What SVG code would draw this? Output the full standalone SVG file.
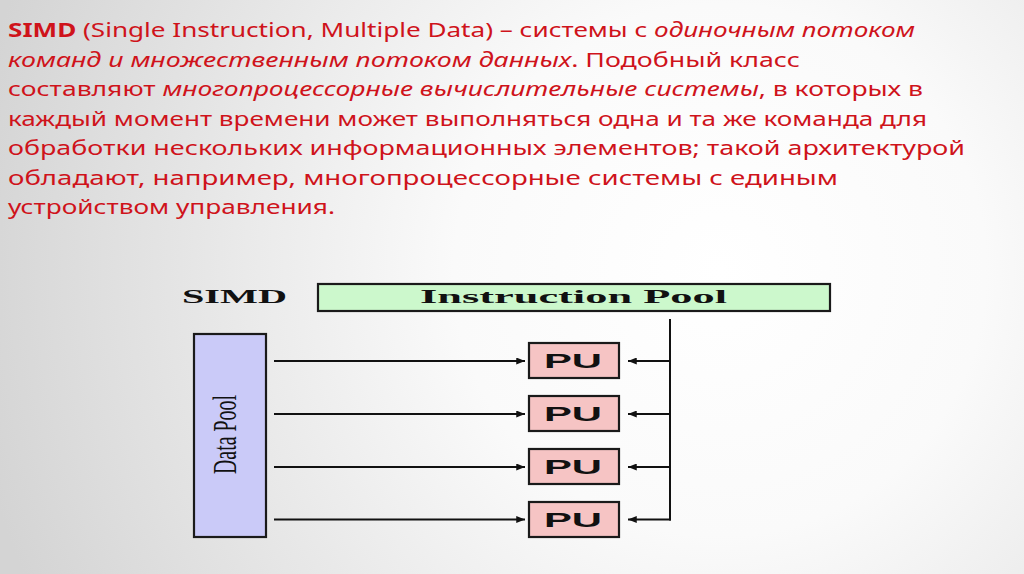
<svg xmlns="http://www.w3.org/2000/svg" width="1024" height="574" viewBox="0 0 1024 574">
<defs>
<radialGradient id="bg" cx="720" cy="270" r="760" gradientUnits="userSpaceOnUse">
<stop offset="0" stop-color="#ffffff"/>
<stop offset="0.35" stop-color="#fafafa"/>
<stop offset="1" stop-color="#d4d4d4"/>
</radialGradient>
<marker id="ah" viewBox="0 0 10 8" refX="10" refY="4" markerWidth="9" markerHeight="7" markerUnits="userSpaceOnUse" orient="auto">
<path d="M0,0 L10,4 L0,8 Z" fill="#111"/>
</marker>
<style>
.t{font-family:"Noto Sans","DejaVu Sans",sans-serif;font-size:20px;fill:#cf131b;}
.i{font-style:italic;}
.b{font-weight:bold;}
.lbl{font-family:"Liberation Serif","Times New Roman",serif;font-weight:bold;font-size:18px;fill:#111;}
.pu{font-family:"Liberation Sans",Arial,sans-serif;font-weight:bold;font-size:21px;fill:#111;}
.dp{font-family:"Liberation Serif","Times New Roman",serif;font-size:34px;fill:#111;}
.box{stroke:#1a1a1a;stroke-width:2.2;}
.ln{stroke:#111;stroke-width:2;fill:none;}
</style>
</defs>
<rect width="1024" height="574" fill="url(#bg)"/>
<g id="heading">
<text class="t" x="8" y="37" textLength="907" lengthAdjust="spacingAndGlyphs"><tspan class="b">SIMD</tspan> (Single Instruction, Multiple Data) – системы с <tspan class="i">одиночным потоком</tspan></text>
<text class="t" x="8" y="66.5" textLength="792" lengthAdjust="spacingAndGlyphs"><tspan class="i">команд и множественным потоком данных</tspan>. Подобный класс</text>
<text class="t" x="8" y="96" textLength="915" lengthAdjust="spacingAndGlyphs">составляют <tspan class="i">многопроцессорные вычислительные системы</tspan>, в которых в</text>
<text class="t" x="8" y="125.5" textLength="919" lengthAdjust="spacingAndGlyphs">каждый момент времени может выполняться одна и та же команда для</text>
<text class="t" x="8" y="155" textLength="957" lengthAdjust="spacingAndGlyphs">обработки нескольких информационных элементов; такой архитектурой</text>
<text class="t" x="8" y="184.5" textLength="830" lengthAdjust="spacingAndGlyphs">обладают, например, многопроцессорные системы с единым</text>
<text class="t" x="8" y="214" textLength="327" lengthAdjust="spacingAndGlyphs">устройством управления.</text>
</g>
<g id="simd-label">
<text class="lbl" x="182" y="303" textLength="105" lengthAdjust="spacingAndGlyphs">SIMD</text>
</g>
<g id="instruction-pool">
<rect class="box" x="318" y="284" width="512" height="27" fill="#ccf8cc"/>
<text class="lbl" x="420" y="303" textLength="307" lengthAdjust="spacingAndGlyphs">Instruction Pool</text>
</g>
<g id="data-pool">
<rect class="box" x="194" y="334" width="72" height="203" fill="#cacaf8"/>
<text class="dp" x="0" y="0" transform="translate(236,474) rotate(-90)" textLength="79" lengthAdjust="spacingAndGlyphs">Data Pool</text>
</g>
<g id="pu1">
<rect class="box" x="529" y="343" width="90" height="35" fill="#f6c4c4"/>
<text class="pu" x="544" y="368" textLength="58" lengthAdjust="spacingAndGlyphs">PU</text>
</g>
<g id="pu2">
<rect class="box" x="529" y="396" width="90" height="35" fill="#f6c4c4"/>
<text class="pu" x="544" y="421" textLength="58" lengthAdjust="spacingAndGlyphs">PU</text>
</g>
<g id="pu3">
<rect class="box" x="529" y="449" width="90" height="35" fill="#f6c4c4"/>
<text class="pu" x="544" y="474" textLength="58" lengthAdjust="spacingAndGlyphs">PU</text>
</g>
<g id="pu4">
<rect class="box" x="529" y="502" width="90" height="35" fill="#f6c4c4"/>
<text class="pu" x="544" y="527" textLength="58" lengthAdjust="spacingAndGlyphs">PU</text>
</g>
<g id="connectors">
<line class="ln" x1="274" y1="361" x2="525" y2="361" marker-end="url(#ah)"/>
<line class="ln" x1="274" y1="414" x2="525" y2="414" marker-end="url(#ah)"/>
<line class="ln" x1="274" y1="467" x2="525" y2="467" marker-end="url(#ah)"/>
<line class="ln" x1="274" y1="519.5" x2="525" y2="519.5" marker-end="url(#ah)"/>
<line class="ln" x1="670" y1="319" x2="670" y2="520.5"/>
<line class="ln" x1="671" y1="361" x2="628" y2="361" marker-end="url(#ah)"/>
<line class="ln" x1="671" y1="414" x2="628" y2="414" marker-end="url(#ah)"/>
<line class="ln" x1="671" y1="467" x2="628" y2="467" marker-end="url(#ah)"/>
<line class="ln" x1="671" y1="519.5" x2="628" y2="519.5" marker-end="url(#ah)"/>
</g>
</svg>
